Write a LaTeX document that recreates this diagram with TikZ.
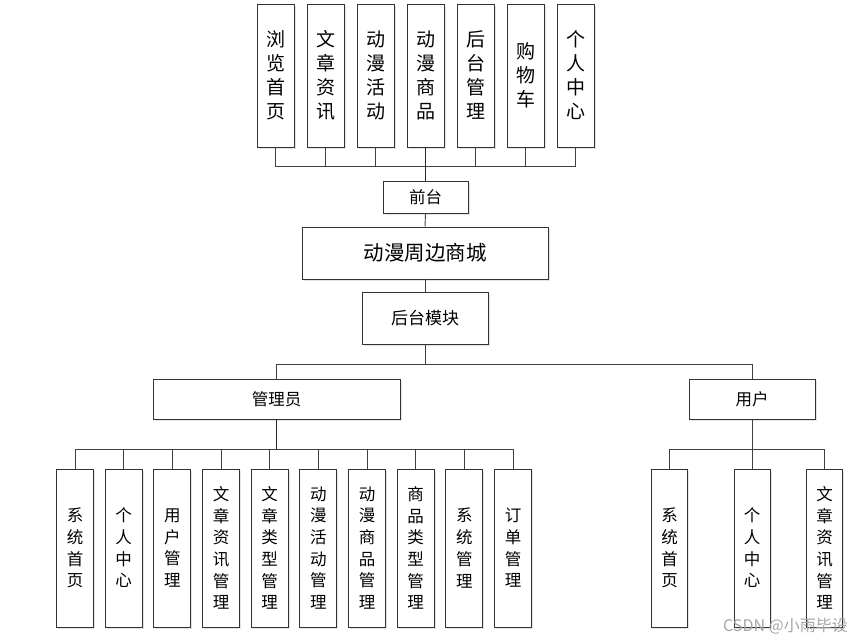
\documentclass[tikz,border=0pt]{standalone}
\usepackage{fontspec}
\newfontfamily\cjk{Noto Sans CJK SC}
\usetikzlibrary{shadows}
\begin{document}
\begin{tikzpicture}[x=1pt,y=-1pt,
  box/.style={draw=black!80, line width=0.9pt, fill=white, inner sep=0pt, align=center,
    drop shadow={shadow xshift=1.6pt, shadow yshift=-1.6pt, opacity=0.22}},
  topbox/.style={box, minimum width=37pt, minimum height=143pt, font=\cjk\fontsize{19}{24}\selectfont},
  botbox/.style={box, minimum width=37pt, minimum height=158pt, font=\cjk\fontsize{16.5}{21.7}\selectfont},
  hbox/.style={box, font=\cjk\fontsize{16.5}{20}\selectfont},
  conn/.style={draw=black!75, line width=0.9pt},
  thickconn/.style={draw=black!85, line width=1.6pt},
  wmark/.style={text=black!35, font=\cjk\fontsize{16}{18}\selectfont, inner sep=0pt}]
\useasboundingbox (0,0) rectangle (852,640);

% top row
\node[topbox] (t1) at (275.5,75.5) {浏\\览\\首\\页};
\node[topbox] (t2) at (325.5,75.5) {文\\章\\资\\讯};
\node[topbox] (t3) at (375.5,75.5) {动\\漫\\活\\动};
\node[topbox] (t4) at (425.5,75.5) {动\\漫\\商\\品};
\node[topbox] (t5) at (475.5,75.5) {后\\台\\管\\理};
\node[topbox] (t6) at (525.5,75.5) {购\\物\\车};
\node[topbox] (t7) at (575.5,75.5) {个\\人\\中\\心};

\node[hbox, minimum width=85pt, minimum height=32pt] (qt) at (425.5,197) {前台};
\node[hbox, minimum width=246pt, minimum height=52pt, font=\cjk\fontsize{20.5}{24}\selectfont] (sc) at (425,253) {动漫周边商城};
\node[hbox, minimum width=126pt, minimum height=52pt, font=\cjk\fontsize{17}{20}\selectfont] (hm) at (425,318) {后台模块};
\node[hbox, minimum width=247pt, minimum height=40pt] (gl) at (276.5,399) {管理员};
\node[hbox, minimum width=126pt, minimum height=40pt] (yh) at (752,399) {用户};

% bottom left
\node[botbox] (b1) at (75,548) {系\\统\\首\\页};
\node[botbox] (b2) at (123.67,548) {个\\人\\中\\心};
\node[botbox] (b3) at (172.33,548) {用\\户\\管\\理};
\node[botbox] (b4) at (221,548) {文\\章\\资\\讯\\管\\理};
\node[botbox] (b5) at (269.67,548) {文\\章\\类\\型\\管\\理};
\node[botbox] (b6) at (318.33,548) {动\\漫\\活\\动\\管\\理};
\node[botbox] (b7) at (367,548) {动\\漫\\商\\品\\管\\理};
\node[botbox] (b8) at (415.67,548) {商\\品\\类\\型\\管\\理};
\node[botbox] (b9) at (464.33,548) {系\\统\\管\\理};
\node[botbox] (b10) at (513,548) {订\\单\\管\\理};

% bottom right
\node[botbox, minimum width=36pt] (u1) at (669.5,548) {系\\统\\首\\页};
\node[botbox, minimum width=36pt] (u2) at (752,548) {个\\人\\中\\心};
\node[botbox, minimum width=36pt] (u3) at (824.5,548) {文\\章\\资\\讯\\管\\理};

% top connectors
\coordinate (tb) at (425.5,166);
\foreach \i in {1,2,3,5,6,7} { \draw[conn] (t\i.south) |- (tb); }
\draw[thickconn] (t4.south) -- (qt.north);
\draw[conn] (qt.south) -- (sc.north);
\draw[conn] (sc.south) -- (hm.north);

% backend split
\coordinate (hb) at (425,364);
\draw[conn] (hm.south) -- (hb);
\draw[conn] (hb) -| (gl.north);
\draw[conn] (hb) -| (yh.north);

% admin children
\coordinate (ab) at (276.5,449);
\draw[thickconn] (gl.south) -- (ab);
\foreach \i in {1,...,10} { \draw[conn] (b\i.north) |- (ab); }

% user children
\coordinate (ub) at (752,449);
\draw[conn] (yh.south) -- (u2.north);
\draw[conn] (u1.north) |- (ub);
\draw[conn] (u3.north) |- (ub);

\node[wmark, anchor=east] (wm) at (848,626) {CSDN @小雨毕设};
\end{tikzpicture}
\end{document}
